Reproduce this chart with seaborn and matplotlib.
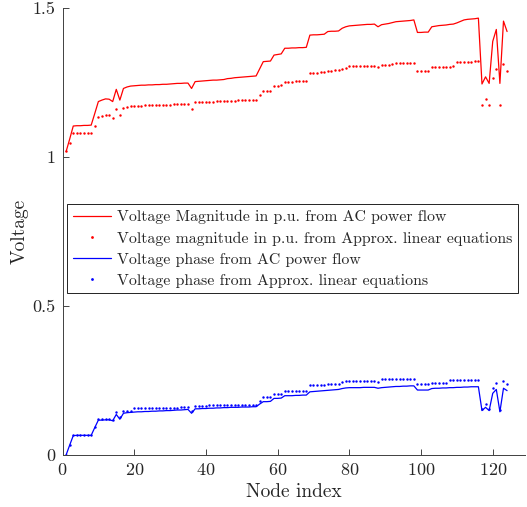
import matplotlib
matplotlib.use("Agg")
import matplotlib.pyplot as plt
import seaborn as sns
import numpy as np
import pandas as pd

# ---------------- data ----------------
nodes = list(range(1, 125))

vmag_ac = [
    1.018, 1.060, 1.104, 1.105, 1.105, 1.106, 1.106, 1.107, 1.146, 1.186,
    1.191, 1.195, 1.194, 1.186, 1.227, 1.191, 1.230, 1.235, 1.238, 1.239,
    1.240, 1.241, 1.241, 1.242, 1.242, 1.243, 1.243, 1.244, 1.244, 1.245,
    1.246, 1.247, 1.247, 1.248, 1.248, 1.230, 1.253, 1.254, 1.255, 1.256,
    1.257, 1.258, 1.258, 1.259, 1.260, 1.263, 1.264, 1.266, 1.267, 1.268,
    1.269, 1.270, 1.271, 1.272, 1.296, 1.320, 1.321, 1.322, 1.342, 1.344,
    1.346, 1.365, 1.365, 1.366, 1.366, 1.367, 1.367, 1.368, 1.409, 1.410,
    1.410, 1.411, 1.412, 1.421, 1.422, 1.422, 1.423, 1.432, 1.437, 1.440,
    1.441, 1.442, 1.443, 1.444, 1.445, 1.445, 1.446, 1.437, 1.444, 1.446,
    1.448, 1.451, 1.454, 1.455, 1.456, 1.457, 1.458, 1.460, 1.418, 1.418,
    1.419, 1.419, 1.437, 1.439, 1.441, 1.442, 1.443, 1.445, 1.446, 1.450,
    1.455, 1.460, 1.462, 1.463, 1.464, 1.466, 1.245, 1.269, 1.247, 1.388,
    1.428, 1.247, 1.456, 1.421,
]

vmag_lin = [
    1.020, 1.048, 1.079, 1.079, 1.079, 1.079, 1.079, 1.079, 1.104, 1.133,
    1.136, 1.141, 1.141, 1.132, 1.160, 1.140, 1.166, 1.168, 1.170, 1.171,
    1.172, 1.172, 1.173, 1.173, 1.174, 1.174, 1.175, 1.175, 1.176, 1.176,
    1.177, 1.177, 1.177, 1.178, 1.178, 1.161, 1.184, 1.184, 1.185, 1.185,
    1.186, 1.186, 1.187, 1.187, 1.188, 1.188, 1.189, 1.189, 1.190, 1.190,
    1.190, 1.191, 1.191, 1.191, 1.208, 1.222, 1.222, 1.223, 1.239, 1.239,
    1.240, 1.252, 1.253, 1.253, 1.254, 1.254, 1.255, 1.255, 1.283, 1.283,
    1.283, 1.284, 1.284, 1.290, 1.290, 1.291, 1.291, 1.296, 1.300, 1.304,
    1.305, 1.305, 1.305, 1.305, 1.306, 1.306, 1.306, 1.301, 1.308, 1.308,
    1.309, 1.311, 1.314, 1.315, 1.315, 1.316, 1.316, 1.317, 1.289, 1.289,
    1.289, 1.289, 1.302, 1.302, 1.302, 1.303, 1.303, 1.303, 1.304, 1.318,
    1.319, 1.319, 1.320, 1.320, 1.321, 1.321, 1.174, 1.195, 1.174, 1.266,
    1.294, 1.174, 1.312, 1.290,
]

phase_ac = [
    0.000, 0.033, 0.065, 0.066, 0.066, 0.066, 0.066, 0.066, 0.092, 0.117,
    0.117, 0.118, 0.118, 0.115, 0.136, 0.120, 0.140, 0.142, 0.143, 0.144,
    0.145, 0.145, 0.146, 0.146, 0.147, 0.147, 0.148, 0.148, 0.149, 0.149,
    0.150, 0.151, 0.151, 0.152, 0.153, 0.140, 0.155, 0.155, 0.156, 0.156,
    0.157, 0.157, 0.158, 0.158, 0.159, 0.159, 0.160, 0.160, 0.160, 0.161,
    0.161, 0.161, 0.162, 0.162, 0.171, 0.179, 0.179, 0.180, 0.190, 0.190,
    0.191, 0.199, 0.199, 0.199, 0.200, 0.200, 0.201, 0.201, 0.212, 0.213,
    0.214, 0.215, 0.216, 0.217, 0.218, 0.219, 0.220, 0.223, 0.225, 0.226,
    0.226, 0.226, 0.226, 0.227, 0.227, 0.227, 0.227, 0.224, 0.226, 0.227,
    0.228, 0.229, 0.230, 0.230, 0.231, 0.231, 0.232, 0.232, 0.218, 0.218,
    0.218, 0.218, 0.223, 0.224, 0.224, 0.225, 0.225, 0.226, 0.226, 0.227,
    0.227, 0.228, 0.228, 0.229, 0.229, 0.229, 0.149, 0.160, 0.149, 0.207,
    0.220, 0.145, 0.224, 0.216,
]

phase_lin = [
    0.000, 0.033, 0.066, 0.066, 0.066, 0.066, 0.066, 0.066, 0.093, 0.121,
    0.121, 0.121, 0.121, 0.118, 0.143, 0.129, 0.147, 0.147, 0.147, 0.157,
    0.157, 0.157, 0.158, 0.158, 0.158, 0.158, 0.158, 0.159, 0.159, 0.159,
    0.159, 0.159, 0.160, 0.160, 0.160, 0.148, 0.166, 0.166, 0.166, 0.166,
    0.167, 0.167, 0.167, 0.167, 0.167, 0.168, 0.168, 0.168, 0.168, 0.168,
    0.169, 0.169, 0.169, 0.169, 0.182, 0.196, 0.196, 0.196, 0.205, 0.205,
    0.205, 0.216, 0.216, 0.216, 0.216, 0.216, 0.216, 0.216, 0.235, 0.235,
    0.235, 0.235, 0.235, 0.239, 0.239, 0.239, 0.239, 0.244, 0.248, 0.248,
    0.248, 0.248, 0.248, 0.248, 0.248, 0.248, 0.248, 0.246, 0.254, 0.254,
    0.254, 0.254, 0.254, 0.254, 0.254, 0.254, 0.254, 0.254, 0.237, 0.237,
    0.237, 0.237, 0.243, 0.243, 0.243, 0.243, 0.243, 0.252, 0.252, 0.252,
    0.252, 0.252, 0.252, 0.252, 0.252, 0.252, 0.155, 0.171, 0.155, 0.226,
    0.243, 0.152, 0.249, 0.238,
]

series_labels = [
    "Voltage Magnitude in p.u. from AC power flow",
    "Voltage magnitude in p.u. from Approx. linear equations",
    "Voltage phase from AC power flow",
    "Voltage phase from Approx. linear equations",
]

xtick_values = [0, 20, 40, 60, 80, 100, 120]
ytick_values = [0, 0.5, 1, 1.5]
ytick_labels = ["0", "0.5", "1", "1.5"]

# ---------------- style ----------------
sns.set_style("ticks")
plt.rcParams["font.family"] = ["cmr10", "DejaVu Serif"]
plt.rcParams["axes.formatter.use_mathtext"] = True
plt.rcParams["mathtext.fontset"] = "cm"
plt.rcParams["xtick.direction"] = "in"
plt.rcParams["ytick.direction"] = "in"

fig = plt.figure(figsize=(5.27, 5.07), dpi=100)
ax = fig.add_axes([62.5 / 527, 52 / 507, 462.5 / 527, 447 / 507])

df = pd.DataFrame({
    "node": nodes,
    "vmag_ac": vmag_ac,
    "vmag_lin": vmag_lin,
    "phase_ac": phase_ac,
    "phase_lin": phase_lin,
})

red = "#ff0000"
blue = "#0000ff"

sns.lineplot(data=df, x="node", y="vmag_ac", ax=ax, color=red, lw=0.9,
             label=series_labels[0])
sns.lineplot(data=df, x="node", y="vmag_lin", ax=ax, color=red, lw=0,
             marker=".", markersize=3.5, markeredgewidth=0, linestyle="none",
             label=series_labels[1])
sns.lineplot(data=df, x="node", y="phase_ac", ax=ax, color=blue, lw=0.9,
             label=series_labels[2])
sns.lineplot(data=df, x="node", y="phase_lin", ax=ax, color=blue, lw=0,
             marker=".", markersize=3.5, markeredgewidth=0, linestyle="none",
             label=series_labels[3])

ax.set_xlim(0, 129)
ax.set_ylim(0, 1.5)
ax.set_xticks(xtick_values)
ax.set_yticks(ytick_values, ytick_labels)
ax.tick_params(axis="both", labelsize=13, length=4, width=0.6, color="#262626",
               labelcolor="#262626", pad=5)

for side in ["top", "right"]:
    ax.spines[side].set_visible(False)
for side in ["left", "bottom"]:
    ax.spines[side].set_linewidth(0.7)
    ax.spines[side].set_color("#404040")

ax.set_xlabel("Node index", fontsize=14, color="#262626", labelpad=4)
ax.set_ylabel("Voltage", fontsize=14, color="#262626", labelpad=3)

leg = ax.legend(loc="center", bbox_to_anchor=(0.497, 0.461), fontsize=11.4,
                frameon=True, fancybox=False, framealpha=1, edgecolor="black",
                handlelength=2.4, handletextpad=0.4, labelspacing=0.45,
                borderpad=0.35, borderaxespad=0)
leg.get_frame().set_linewidth(0.6)
for h in leg.legend_handles:
    if h.get_marker() == ".":
        h.set_markersize(4)

fig.savefig("out.png", dpi=100)
